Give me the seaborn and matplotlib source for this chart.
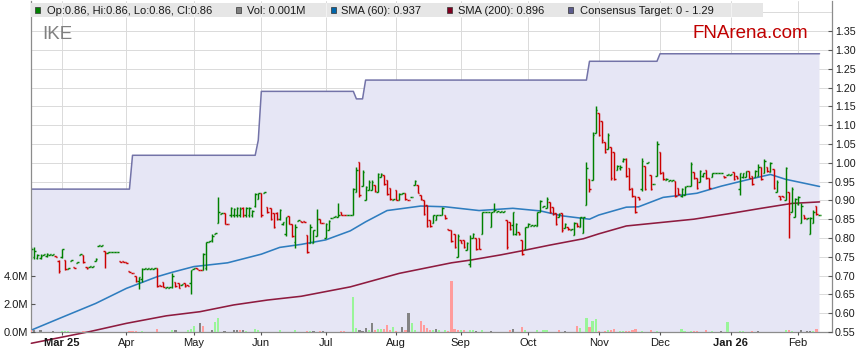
import numpy as np
import pandas as pd
import matplotlib
matplotlib.use("Agg")
import matplotlib.pyplot as plt
import matplotlib.transforms as mtransforms
from matplotlib.patches import Rectangle
from matplotlib.lines import Line2D
import seaborn as sns

# ---------------- data ----------------
start_date = "2025-02-17"   # first trading day shown

opens = [
    .755, .750, .748, .748, .755, .752, .755, .755, .752, .740,
    .750, .742, .718, .740, .722, .733, .755, .755, .722, .724,
    .724, .740, .780, .780, .765, .760, .762, .762, .762, .738,
    .738, .736, .712, .708, .700, .686, .690, .718, .718, .718,
    .718, .720, .674, .684, .668, .668, .670, .684, .680, .676,
    .680, .674, .680, .718, .720, .716, .715, .720, .790, .795,
    .810, .840, .865, .866, .838, .860, .860, .860, .860, .880,
    .860, .860, .860, .885, .905, .920, .920, .883, .880, .866,
    .866, .850, .836, .810, .858, .836, .790, .846, .845, .845,
    .808, .786, .786, .804, .850, .841, .800, .821, .852, .857,
    .857, .870, .862, .861, .861, .861, .923, 1.003, .937, .901,
    .928, .928, .941, .923, .963, .968, .954, .932, .901, .928,
    .901, .917, .919, .902, .909, .941, .941, .914, .901, .888,
    .848, .839, .848, .860, .861, .861, .823, .821, .811, .750,
    .795, .795, .768, .730, .799, .799, .799, .811, .868, .868,
    .830, .872, .870, .870, .870, .848, .843, .835, .810, .817,
    .795, .770, .830, .832, .832, .832, .870, .882, .879, .897,
    .883, .866, .857, .866, .826, .830, .821, .808, .839, .830,
    .812, .888, .956, .954, 1.080, 1.132, 1.110, 1.056, 1.038, 1.042,
    1.030, .981, .985, 1.005, 1.010, .985, .932, .912, .910, .930,
    .991, 1.000, .968, .943, .966, 1.030, .975, .955, .952, .952,
    .952, .933, .912, .915, .937, .937, .975, .960, .950, .965,
    .980, .960, .962, .973, .973, .973, .966, .968, .968, .975,
    .966, .930, .962, .963, .979, .966, .962, .966, .990, .974,
    .990, .976, .984, .923, .912, .912, .900, .923, .870, .855,
    .890, .840, .860, .850, .811, .840, .884, .860,
]
highs = [
    .775, .775, .757, .757, .757, .760, .757, .757, .752, .742,
    .772, .742, .720, .742, .722, .735, .757, .755, .722, .726,
    .726, .747, .782, .782, .765, .762, .762, .762, .762, .738,
    .738, .736, .712, .708, .700, .697, .720, .720, .720, .720,
    .720, .720, .674, .684, .670, .670, .706, .684, .680, .678,
    .680, .674, .715, .720, .720, .716, .760, .790, .792, .810,
    .813, .910, .867, .866, .838, .883, .881, .883, .883, .883,
    .883, .883, .875, .920, .920, .920, .922, .883, .880, .866,
    .868, .877, .843, .857, .859, .836, .836, .848, .845, .845,
    .808, .836, .821, .877, .850, .841, .839, .848, .854, .858,
    .894, .870, .862, .862, .862, .932, .990, 1.003, .981, .937,
    .954, .954, .941, .972, .972, .968, .954, .932, .905, .928,
    .919, .919, .919, .902, .910, .954, .941, .914, .901, .888,
    .848, .861, .861, .862, .883, .861, .823, .821, .811, .811,
    .795, .795, .790, .808, .812, .799, .799, .870, .870, .870,
    .870, .894, .872, .872, .872, .848, .843, .870, .839, .817,
    .795, .830, .839, .834, .834, .870, .901, .884, .910, .897,
    .883, .866, .866, .866, .839, .830, .823, .843, .839, .857,
    .857, 1.003, .956, 1.083, 1.151, 1.132, 1.110, 1.056, 1.078, 1.042,
    1.030, .994, .994, 1.012, 1.012, .985, .932, .912, .910, 1.012,
    .991, 1.002, .968, .944, 1.059, 1.030, .975, .960, .953, .953,
    .952, .933, .933, .937, .938, 1.003, .975, .960, .980, .974,
    .980, .960, .974, .974, .974, .974, .966, .969, .969, .975,
    .966, .974, .974, .979, .979, .966, .981, .996, .990, 1.010,
    .990, 1.003, .984, .954, .912, .912, .990, .923, .935, .907,
    .912, .893, .860, .852, .855, .875, .884, .860,
]
lows = [
    .745, .745, .745, .745, .755, .750, .755, .755, .750, .708,
    .747, .715, .718, .740, .720, .733, .755, .733, .718, .724,
    .724, .740, .780, .780, .720, .760, .762, .762, .762, .736,
    .736, .734, .710, .706, .684, .664, .684, .718, .718, .718,
    .718, .670, .672, .670, .668, .668, .668, .670, .668, .676,
    .670, .672, .651, .718, .718, .714, .715, .715, .790, .790,
    .810, .840, .865, .836, .836, .857, .857, .857, .857, .857,
    .857, .857, .855, .883, .905, .857, .920, .866, .848, .826,
    .848, .848, .834, .806, .836, .803, .773, .846, .843, .843,
    .759, .786, .786, .804, .839, .839, .799, .821, .852, .857,
    .857, .861, .861, .861, .861, .861, .923, .910, .937, .901,
    .928, .928, .923, .923, .963, .941, .914, .901, .901, .900,
    .901, .917, .901, .901, .909, .941, .919, .901, .861, .830,
    .830, .839, .848, .860, .861, .850, .821, .790, .773, .750,
    .786, .773, .768, .724, .799, .768, .770, .811, .868, .868,
    .830, .870, .870, .870, .870, .770, .821, .808, .808, .808,
    .755, .770, .830, .832, .832, .832, .870, .882, .879, .866,
    .861, .835, .857, .817, .826, .821, .821, .808, .830, .830,
    .812, .888, .923, .953, 1.080, 1.070, 1.052, 1.025, 1.038, .954,
    .954, .981, .981, 1.003, .963, .928, .910, .866, .901, .926,
    .928, 1.000, .928, .943, .966, .970, .955, .955, .952, .952,
    .910, .915, .910, .915, .937, .937, .957, .930, .948, .962,
    .957, .930, .962, .973, .973, .973, .960, .968, .968, .954,
    .957, .914, .959, .963, .959, .942, .962, .966, .954, .974,
    .976, .976, .930, .923, .901, .910, .900, .800, .870, .855,
    .888, .840, .850, .850, .811, .840, .862, .860,
]
closes = [
    .770, .765, .755, .752, .757, .757, .757, .757, .750, .712,
    .770, .718, .720, .742, .720, .735, .757, .735, .720, .726,
    .726, .745, .782, .782, .760, .762, .762, .762, .762, .736,
    .736, .734, .710, .706, .686, .695, .718, .720, .720, .720,
    .720, .672, .672, .670, .670, .670, .700, .672, .668, .678,
    .672, .672, .715, .720, .718, .714, .758, .790, .792, .805,
    .813, .870, .867, .838, .836, .880, .878, .880, .878, .860,
    .880, .880, .872, .918, .920, .860, .922, .868, .850, .828,
    .850, .875, .842, .855, .838, .805, .830, .848, .843, .843,
    .762, .830, .820, .850, .840, .839, .836, .845, .854, .858,
    .860, .862, .861, .862, .862, .930, .980, .915, .975, .935,
    .950, .950, .925, .970, .970, .943, .916, .903, .905, .902,
    .917, .919, .903, .901, .910, .952, .921, .903, .863, .832,
    .832, .860, .860, .862, .880, .852, .821, .792, .775, .805,
    .788, .775, .788, .800, .810, .770, .772, .868, .870, .870,
    .868, .874, .872, .872, .872, .775, .823, .868, .836, .810,
    .757, .828, .836, .834, .834, .868, .898, .884, .905, .870,
    .865, .838, .864, .820, .836, .823, .823, .840, .832, .855,
    .855, .985, .930, 1.075, 1.140, 1.075, 1.060, 1.028, 1.075, .960,
    .958, .992, .990, 1.010, .966, .930, .912, .870, .903, 1.005,
    .930, 1.002, .930, .944, 1.050, .972, .957, .958, .953, .953,
    .912, .917, .930, .935, .938, .998, .960, .932, .978, .972,
    .960, .932, .972, .974, .974, .974, .961, .969, .969, .956,
    .960, .972, .972, .977, .960, .944, .979, .990, .956, 1.005,
    .978, 1.000, .932, .950, .903, .910, .985, .865, .930, .905,
    .910, .885, .852, .852, .852, .870, .864, .860,
]

# moving averages, read at sample trading days
sma60_day = [0, 10, 21, 31, 41, 46, 53, 64, 75, 81, 88, 96, 104, 109, 116, 127, 135,
             146, 157, 166, 173, 182, 185, 194, 198, 206, 217, 225, 233, 241, 246, 253, 257]
sma60_val = [.555, .589, .626, .666, .697, .709, .724, .734, .757, .775, .783, .795, .819,
             .843, .873, .885, .883, .873, .879, .872, .859, .850, .861, .882, .883, .908,
             .919, .938, .954, .969, .956, .944, .937]
sma200_day = [0, 19, 31, 44, 55, 66, 77, 88, 104, 120, 137, 143, 153, 160, 169, 180, 185,
              194, 205, 216, 227, 238, 248, 257]
sma200_val = [.520, .551, .573, .593, .604, .622, .635, .645, .670, .706, .734, .741, .755,
              .766, .781, .798, .811, .832, .841, .850, .864, .879, .892, .896]

# consensus target (value from each date onward)
target_dates = ["2025-02-17", "2025-04-03", "2025-05-30", "2025-06-02", "2025-07-15",
                "2025-07-18", "2025-10-29", "2025-12-01"]
target_values = [0.93, 1.02, 1.06, 1.19, 1.17, 1.22, 1.27, 1.29]

# volume (millions) on trading days with a visible bar; g=up, r=down, n=unchanged
vol_day = [0, 1, 3, 7, 10, 11, 12, 17, 32, 33, 34, 36, 41, 46, 47, 51, 52, 53, 55, 56,
           59, 60, 61, 63, 66, 67, 68, 69, 70, 73, 74, 81, 86, 90, 91, 92, 94, 95, 101, 102,
           105, 106, 107, 108, 109, 110, 111, 112, 113, 114, 115, 116, 117, 118, 119, 121, 122, 123, 124, 125,
           127, 128, 129, 130, 131, 132, 133, 135, 136, 137, 138, 139, 140, 141, 143, 144, 145, 147, 150, 156,
           157, 160, 161, 165, 167, 168, 172, 174, 178, 179, 181, 182, 183, 184, 185, 187, 188, 189, 190, 192,
           193, 194, 195, 196, 197, 199, 202, 204, 212, 213, 215, 216, 217, 220, 222, 225, 227, 231, 232, 235,
           237, 246, 247, 248, 251, 253, 254, 255, 256]
vol_m = [.12, .12, .12, .07, .07, .07, .07, .07, .07, .07, .07, .07, .19, .17, .12, .17, .21, .40, .64, .45,
         .17, .71, 1.02, .07, .12, .12, .12, .12, .07, .19, .14, .12, .17, .07, .07, .07, .07, .07, .07, .07,
         2.50, .29, .17, .07, .29, .17, .64, .17, .21, .21, .21, .48, .17, .36, .07, .36, .17, 1.36, .64, .17,
         .79, .48, .29, .17, .17, .21, .17, .12, .07, 3.64, .21, .17, .12, .12, .17, .17, .07, .17, .07, .17,
         .21, .36, .17, .12, .12, .12, .17, .07, .40, .29, 1.02, .36, .79, .90, .07, .07, .12, .12, .19, .05,
         .05, .07, .07, .12, .19, .05, .12, .05, .19, .07, .05, .07, .07, .12, .05, .07, .71, .05, .05, .07,
         .07, .12, .12, .05, .12, .07, .07, .05, .19]
vol_kind = ["r", "n", "n", "n", "g", "g", "g", "r", "r", "r", "r", "g", "r", "g", "n", "g", "g", "g", "n", "r",
            "n", "g", "g", "n", "n", "n", "r", "n", "g", "g", "g", "g", "g", "r", "g", "n", "r", "n", "r", "r",
            "g", "g", "n", "n", "n", "g", "n", "r", "g", "g", "r", "r", "r", "g", "r", "n", "r", "n", "g", "g",
            "r", "r", "r", "r", "g", "n", "g", "g", "r", "r", "r", "r", "g", "r", "g", "g", "n", "g", "n", "r",
            "n", "r", "g", "g", "g", "g", "r", "n", "r", "g", "g", "r", "g", "g", "r", "r", "g", "r", "r", "g",
            "g", "r", "r", "r", "r", "g", "r", "g", "g", "g", "g", "r", "r", "r", "g", "n", "g", "g", "g", "r",
            "n", "g", "r", "g", "n", "n", "n", "g", "r"]

month_labels = ["Mar 25", "Apr", "May", "Jun", "Jul", "Aug", "Sep", "Oct", "Nov", "Dec", "Jan 26", "Feb"]
price_ticks = [0.55, 0.60, 0.65, 0.70, 0.75, 0.80, 0.85, 0.90, 0.95, 1.00, 1.05, 1.10,
               1.15, 1.20, 1.25, 1.30, 1.35]
grid_levels = price_ticks + [1.40]
vol_ticks = [0, 2, 4]

ticker = "IKE"
brand = "FNArena.com"
legend_labels = ["Op:0.86, Hi:0.86, Lo:0.86, Cl:0.86", "Vol: 0.001M", "SMA (60): 0.937",
                 "SMA (200): 0.896", "Consensus Target: 0 - 1.29"]

# ---------------- style ----------------
GREEN, RED = "#008000", "#CC0000"
BLUE, MAROON = "#2F7DBF", "#8E1B3F"
LAV, TGT = "#E6E6F5", "#7373A8"
GRID, SPINE = "#DADADA", "#8C8C8C"
VCOL = {"g": "#99F599", "r": "#FF9C9C", "n": "#848484"}
legend_colors = [GREEN, "#808080", "#0066AA", "#800020", "#5C5C8E"]
legend_sq_x = [35, 236, 331, 447, 568]
legend_tx_x = [47, 247, 341, 458, 580]

sns.set_style("white")
plt.rcParams["font.family"] = ["Liberation Sans", "DejaVu Sans"]

W, H = 859, 363
fig = plt.figure(figsize=(W / 100, H / 100), dpi=100, facecolor="white")
ax = fig.add_axes([31 / W, 1 - 332 / H, 801 / W, 331 / H])

n = len(closes)
dates = pd.bdate_range(start_date, periods=n)
day = np.arange(n)
df = pd.DataFrame({"date": dates, "day": day, "open": opens, "high": highs,
                   "low": lows, "close": closes})

ax.set_xlim(-0.1, 261.07)
ax.set_ylim(0.55, 0.55 + 331 / 376)
ax.set_axisbelow(False)

month_pos = [i for i in range(1, n) if dates[i].month != dates[i - 1].month]

# gridlines (below the target area)
for y in grid_levels:
    ax.axhline(y, color=GRID, lw=0.7, zorder=0.8)
for p in month_pos:
    ax.axvline(p, color=GRID, lw=0.7, zorder=0.8)

# consensus target area + line
tgt = pd.Series(target_values, index=pd.to_datetime(target_dates)).reindex(dates, method="ffill")
ax.fill_between(day, 0, tgt.values, color=LAV, lw=0, zorder=1)
sns.lineplot(x=day, y=tgt.values, ax=ax, color=TGT, linewidth=1.1, zorder=1.5,
             legend=False, estimator=None)

# moving averages
sns.lineplot(x=sma60_day, y=sma60_val, ax=ax, color=BLUE, linewidth=1.15, zorder=2,
             legend=False, estimator=None)
sns.lineplot(x=sma200_day, y=sma200_val, ax=ax, color=MAROON, linewidth=1.15, zorder=2,
             legend=False, estimator=None)
ax.lines[-1].set_clip_on(False)

# OHLC bars
cols = np.where(df["close"] >= df["open"], GREEN, RED)
ax.vlines(df["day"], df["low"], df["high"], colors=cols, lw=1.05, zorder=2.2)
ax.hlines(df["open"], df["day"] - 0.5, df["day"], colors=cols, lw=1.05, zorder=2.2)
ax.hlines(df["close"], df["day"], df["day"] + 0.5, colors=cols, lw=1.05, zorder=2.2)

# volume on a twin axis
ax2 = ax.twinx()
ax2.bar(vol_day, vol_m, width=0.7, color=[VCOL[k] for k in vol_kind], linewidth=0, zorder=2)
ax2.set_ylim(0, 331 / 28 * 2)
ax2.grid(False)
for s in ax2.spines.values():
    s.set_visible(False)

# axes, ticks
ax.yaxis.tick_right()
ax.set_yticks(price_ticks)
ax.set_yticklabels([f"{v:.2f}" for v in price_ticks])
ax.tick_params(axis="y", direction="in", length=3, pad=2, labelsize=7.7,
               color="#555555", labelcolor="#1a1a1a", right=True, left=False)
ax.set_xticks(month_pos)
ax.set_xticklabels(month_labels)
for lab in ax.get_xticklabels():
    if " " in lab.get_text():
        lab.set_fontweight("bold")
ax.tick_params(axis="x", direction="out", length=2.5, pad=2, labelsize=8,
               color="#555555", labelcolor="#1a1a1a", bottom=True)
ax2.yaxis.tick_left()
ax2.set_yticks(vol_ticks)
ax2.set_yticklabels([f"{v:.1f}M" for v in vol_ticks])
ax2.tick_params(axis="y", direction="in", length=3, pad=2, labelsize=8,
                color="#555555", labelcolor="#1a1a1a", left=True, right=False)
ax.spines["top"].set_visible(False)
for s in ["left", "right", "bottom"]:
    ax.spines[s].set_visible(True)
    ax.spines[s].set_color(SPINE)
    ax.spines[s].set_linewidth(0.9)
ax.set_xlabel("")
ax.set_ylabel("")
ax2.set_ylabel("")

# legend bar
fig.add_artist(Rectangle((31 / W, 1 - 17 / H), 732 / W, 14 / H, transform=fig.transFigure,
                         facecolor="#E6E6E6", edgecolor="none", zorder=5))
blend = mtransforms.blended_transform_factory(ax.transData, fig.transFigure)
for p in month_pos:
    if 31 + 3.067 * p < 763:
        fig.add_artist(Line2D([p, p], [1 - 17 / H, 1 - 3 / H], transform=blend,
                              color="#F3F3F3", lw=0.7, zorder=5.5))
for sx, tx, c, lab in zip(legend_sq_x, legend_tx_x, legend_colors, legend_labels):
    fig.add_artist(Rectangle((sx / W, 1 - 12.8 / H), 5.4 / W, 5.4 / H, transform=fig.transFigure,
                             facecolor=c, edgecolor="#333333", lw=0.5, zorder=6))
    fig.text(tx / W, 1 - 14 / H, lab, fontsize=8, color="#1a1a1a", ha="left", va="baseline", zorder=7)

fig.text(42 / W, 1 - 39 / H, ticker, fontsize=13.5, color="#808080", ha="left", va="baseline")
fig.text(693 / W, 1 - 38.3 / H, brand, fontsize=13.5, color="#C00000", ha="left", va="baseline")

fig.savefig("out.png", dpi=100, facecolor="white")
